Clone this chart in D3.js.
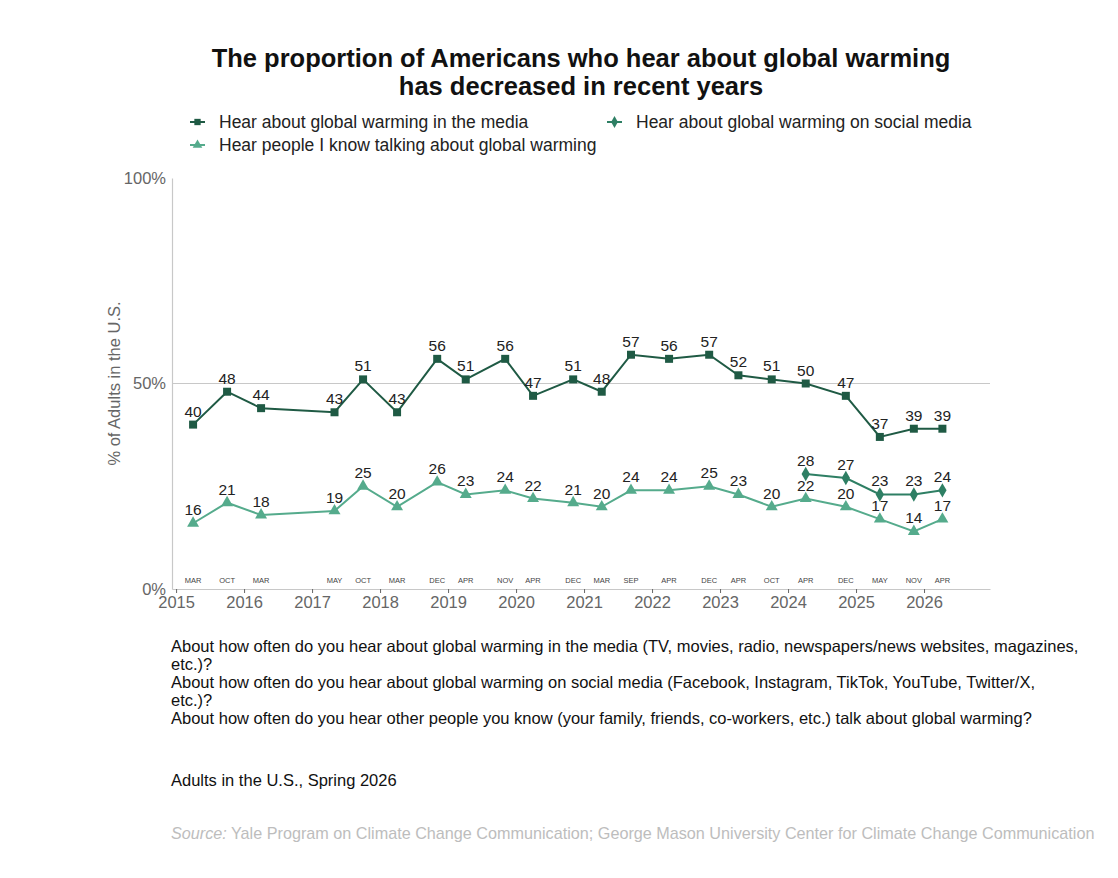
<!DOCTYPE html>
<html>
<head>
<meta charset="utf-8">
<script src="https://cdn.jsdelivr.net/npm/d3@7"></script>
<style>
  html, body { margin: 0; padding: 0; background: #fff; }
  svg { display: block; font-family: "Liberation Sans", Arial, sans-serif; }
</style>
</head>
<body>
<svg id="chart" width="1118" height="878"></svg>
<script>
// ---- Data ----
const surveyDates = [2015.25, 2015.75, 2016.25, 2017.33, 2017.75, 2018.25, 2018.84, 2019.26, 2019.84, 2020.25, 2020.84,
                     2021.26, 2021.69, 2022.25, 2022.84, 2023.27, 2023.76, 2024.26, 2024.85, 2025.35, 2025.85, 2026.27];
const surveyMonths = ["MAR","OCT","MAR","MAY","OCT","MAR","DEC","APR","NOV","APR","DEC",
                      "MAR","SEP","APR","DEC","APR","OCT","APR","DEC","MAY","NOV","APR"];
const mediaValues = [40, 48, 44, 43, 51, 43, 56, 51, 56, 47, 51, 48, 57, 56, 57, 52, 51, 50, 47, 37, 39, 39];
const talkValues  = [16, 21, 18, 19, 25, 20, 26, 23, 24, 22, 21, 20, 24, 24, 25, 23, 20, 22, 20, 17, 14, 17];
const socialDates  = [2024.26, 2024.85, 2025.35, 2025.85, 2026.27];
const socialValues = [28, 27, 23, 23, 24];
const yearTicks = [2015, 2016, 2017, 2018, 2019, 2020, 2021, 2022, 2023, 2024, 2025, 2026];
const yTicks = [0, 50, 100];
const seriesNames = ["Hear about global warming in the media",
                     "Hear about global warming on social media",
                     "Hear people I know talking about global warming"];

const colMedia = "#1f5a44", colSocial = "#2e7f64", colTalk = "#55ab8c";

const svg = d3.select("#chart");
const x = d3.scaleLinear().domain([2014.94, 2026.97]).range([172, 990]);
const y = d3.scaleLinear().domain([0, 100]).range([589, 178]);

// Title
svg.append("text").attr("x", 581).attr("y", 67).attr("text-anchor", "middle")
  .attr("font-size", 25.5).attr("font-weight", "bold").attr("fill", "#111")
  .text("The proportion of Americans who hear about global warming");
svg.append("text").attr("x", 581).attr("y", 95).attr("text-anchor", "middle")
  .attr("font-size", 25.5).attr("font-weight", "bold").attr("fill", "#111")
  .text("has decreased in recent years");

// Symbols
const symSquare = d3.symbol().type(d3.symbolSquare).size(64);
const symDiamond = d3.symbol().type(d3.symbolDiamond).size(60);
const symTriangle = d3.symbol().type(d3.symbolTriangle).size(62);

// Legend
const legendItems = [
  {name: seriesNames[0], color: colMedia, sym: symSquare, lx: 190, ly: 122},
  {name: seriesNames[1], color: colSocial, sym: symDiamond, lx: 607, ly: 122},
  {name: seriesNames[2], color: colTalk, sym: symTriangle, lx: 190, ly: 145}
];
const lg = svg.append("g");
legendItems.forEach(it => {
  const g = lg.append("g").attr("transform", `translate(${it.lx},${it.ly})`);
  g.append("line").attr("x1", 0).attr("x2", 15).attr("y1", 0).attr("y2", 0)
    .attr("stroke", it.color).attr("stroke-width", 2);
  g.append("path").attr("d", it.sym.size(40)()).attr("transform", "translate(7.5,0)").attr("fill", it.color);
  g.append("text").attr("x", 29).attr("y", 6).attr("font-size", 17.5).attr("fill", "#222").text(it.name);
});

// Gridline at 50%
svg.append("line").attr("x1", x.range()[0]).attr("x2", x.range()[1])
  .attr("y1", y(50)).attr("y2", y(50)).attr("stroke", "#c8c8c8").attr("stroke-width", 1);

// Y axis
const yAxis = d3.axisLeft(y).tickValues(yTicks).tickFormat(d => d + "%").tickSize(0).tickPadding(6);
const gy = svg.append("g").attr("transform", `translate(${x.range()[0]},0)`).call(yAxis);
gy.select(".domain").attr("stroke", "#c8c8c8").attr("stroke-width", 1.2);
gy.selectAll("text").attr("font-size", 16.5).attr("fill", "#666").attr("font-family", "Liberation Sans, Arial, sans-serif");

// X axis
const xAxis = d3.axisBottom(x).tickValues(yearTicks).tickFormat(d3.format("d")).tickSize(4).tickSizeOuter(0).tickPadding(3);
const gx = svg.append("g").attr("transform", `translate(0,${y(0)})`).call(xAxis);
gx.select(".domain").attr("stroke", "#c8c8c8").attr("stroke-width", 1.2);
gx.selectAll(".tick line").attr("stroke", "#666");
gx.selectAll("text").attr("font-size", 16.5).attr("fill", "#666").attr("font-family", "Liberation Sans, Arial, sans-serif");

// Y axis title
svg.append("text").attr("transform", `translate(120,${y(50)}) rotate(-90)`)
  .attr("text-anchor", "middle").attr("font-size", 16.5).attr("fill", "#666")
  .text("% of Adults in the U.S.");

// Month labels
svg.append("g").selectAll("text").data(surveyDates).join("text")
  .attr("x", d => x(d)).attr("y", y(0) - 6).attr("text-anchor", "middle")
  .attr("font-size", 7.5).attr("fill", "#444")
  .text((d, i) => surveyMonths[i]);

// Series
function drawSeries(dates, values, color, sym) {
  const pts = dates.map((d, i) => ({x: d, v: values[i]}));
  const line = d3.line().x(d => x(d.x)).y(d => y(d.v));
  svg.append("path").datum(pts).attr("d", line).attr("fill", "none")
    .attr("stroke", color).attr("stroke-width", 2);
  svg.append("g").selectAll("path").data(pts).join("path")
    .attr("d", sym()).attr("transform", d => `translate(${x(d.x)},${y(d.v)})`).attr("fill", color);
  svg.append("g").selectAll("text").data(pts).join("text")
    .attr("x", d => x(d.x)).attr("y", d => y(d.v) - 8).attr("text-anchor", "middle")
    .attr("font-size", 15.5).attr("fill", "#222").text(d => d.v);
}
drawSeries(surveyDates, mediaValues, colMedia, symSquare.size(64));
drawSeries(surveyDates, talkValues, colTalk, d3.symbol().type(d3.symbolTriangle).size(62));
drawSeries(socialDates, socialValues, colSocial, d3.symbol().type(d3.symbolDiamond).size(60));

// Notes
const notes = [
  "About how often do you hear about global warming in the media (TV, movies, radio, newspapers/news websites, magazines,",
  "etc.)?",
  "About how often do you hear about global warming on social media (Facebook, Instagram, TikTok, YouTube, Twitter/X,",
  "etc.)?",
  "About how often do you hear other people you know (your family, friends, co-workers, etc.) talk about global warming?"
];
svg.append("g").selectAll("text").data(notes).join("text")
  .attr("x", 171).attr("y", (d, i) => 652 + i * 18).attr("font-size", 16.5).attr("fill", "#111").text(d => d);

svg.append("text").attr("x", 171).attr("y", 786).attr("font-size", 16.5).attr("fill", "#111")
  .text("Adults in the U.S., Spring 2026");

const src = svg.append("text").attr("x", 171).attr("y", 839).attr("font-size", 16.2).attr("fill", "#bdbdbd");
src.append("tspan").attr("font-style", "italic").text("Source:");
src.append("tspan").text(" Yale Program on Climate Change Communication; George Mason University Center for Climate Change Communication");
</script>
</body>
</html>
